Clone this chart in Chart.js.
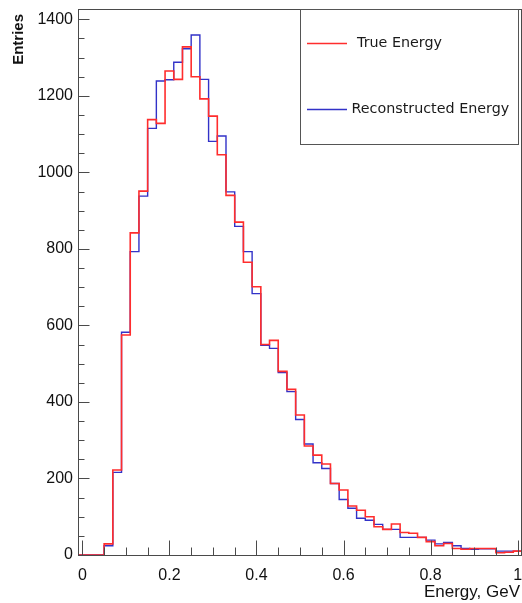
<!DOCTYPE html>
<html>
<head>
<meta charset="utf-8">
<script src="https://cdn.jsdelivr.net/npm/chart.js@4.4.1/dist/chart.umd.min.js"></script>
<style>
html,body{margin:0;padding:0;background:#fff;}
canvas{display:block;}
</style>
</head>
<body>
<canvas id="c" width="522" height="603"></canvas>
<script>
// ---- data ----
const binCenters = [0.00,0.02,0.04,0.06,0.08,0.10,0.12,0.14,0.16,0.18,
                    0.20,0.22,0.24,0.26,0.28,0.30,0.32,0.34,0.36,0.38,
                    0.40,0.42,0.44,0.46,0.48,0.50,0.52,0.54,0.56,0.58,
                    0.60,0.62,0.64,0.66,0.68,0.70,0.72,0.74,0.76,0.78,
                    0.80,0.82,0.84,0.86,0.88,0.90,0.92,0.94,0.96,0.98,1.00];
const binWidth = 0.02;
const trueEnergy = [0,0,0,29,222,575,842,951,1138,1128,
                    1265,1243,1328,1250,1192,1147,1046,940,870,765,
                    701,550,561,480,433,366,285,261,238,187,
                    170,128,117,100,74,67,81,59,57,46,
                    35,24,30,17,15,17,17,17,6,7,10];
const recoEnergy = [0,0,0,24,216,582,793,938,1115,1239,
                    1242,1288,1323,1359,1243,1081,1095,949,859,793,
                    683,548,540,477,427,354,290,241,226,187,
                    145,122,96,91,80,67,67,46,46,46,
                    39,29,33,24,17,15,16,16,10,10,10];
const xTicks = [0,0.2,0.4,0.6,0.8,1];
const yTicks = [0,200,400,600,800,1000,1200,1400];
const seriesLabels = ['True Energy','Reconstructed Energy'];
const xTitle = 'Energy, GeV';
const yTitle = 'Entries';

const RED = 'rgb(255,45,45)';
const BLUE = 'rgb(50,50,200)';
const AXIS = '#4a4a4a';

function stepPoints(vals){
  const pts = binCenters.map((c,i)=>({x:c-binWidth/2, y:vals[i]}));
  pts.push({x:binCenters[binCenters.length-1]+binWidth/2, y:vals[vals.length-1]});
  return pts;
}

function noPad(s){ s.paddingLeft=0; s.paddingRight=0; s.paddingTop=0; s.paddingBottom=0; }

const decor = {
  id:'decor',
  afterDatasetsDraw(chart){
    const {ctx, chartArea:a, scales:{x,y}} = chart;
    ctx.save();
    ctx.strokeStyle = AXIS;
    ctx.lineWidth = 1;
    const L = Math.round(a.left)+0.5, R = Math.round(a.right)-0.5;
    const T = Math.round(a.top)+0.5, B = Math.round(a.bottom)+0.5;
    ctx.strokeRect(L, T, R-L, B-T);
    ctx.beginPath();
    for(let v=0; v<=y.max; v+=50){
      const py = Math.round(y.getPixelForValue(v))+0.5;
      const len = (v%200===0)?11:6;
      ctx.moveTo(L, py); ctx.lineTo(L+len, py);
    }
    for(let i=0;i<=20;i++){
      const v = i*0.05;
      const px = Math.round(x.getPixelForValue(v))+0.5;
      const len = (i%4===0)?15:8;
      ctx.moveTo(px, B); ctx.lineTo(px, B-len);
    }
    ctx.stroke();
    ctx.restore();
  },
  afterDraw(chart){
    const {ctx} = chart;
    ctx.save();
    ctx.fillStyle = '#fff';
    ctx.fillRect(300.5, 9.5, 218, 135);
    ctx.strokeStyle = '#555';
    ctx.lineWidth = 1;
    ctx.strokeRect(300.5, 9.5, 218, 135);
    const ds = chart.data.datasets;
    const rows = [{y:43, tx:357},{y:109, tx:351.5}];
    ctx.font = '14.3px "DejaVu Sans"';
    ctx.textBaseline = 'middle';
    ctx.textAlign = 'left';
    rows.forEach((r,i)=>{
      ctx.strokeStyle = ds[i].borderColor;
      ctx.lineWidth = 1.3;
      ctx.beginPath(); ctx.moveTo(307, r.y+0.5); ctx.lineTo(347, r.y+0.5); ctx.stroke();
      ctx.fillStyle = '#1a1a1a';
      ctx.fillText(ds[i].label, r.tx, r.y);
    });
    ctx.fillStyle = '#111';
    ctx.font = 'bold 15px "Liberation Sans"';
    ctx.save();
    ctx.translate(18.5, 14);
    ctx.rotate(-Math.PI/2);
    ctx.textAlign = 'right';
    ctx.textBaseline = 'middle';
    ctx.fillText(yTitle, 0, 0);
    ctx.restore();
    ctx.font = '17px "Liberation Sans"';
    ctx.textAlign = 'right';
    ctx.textBaseline = 'alphabetic';
    ctx.fillText(xTitle, 520, 597);
    ctx.restore();
  }
};

new Chart(document.getElementById('c'), {
  type:'line',
  data:{
    datasets:[
      {label:seriesLabels[0], data:stepPoints(trueEnergy), borderColor:RED, borderWidth:1.6,
       stepped:'before', pointRadius:0, fill:false, borderJoinStyle:'miter'},
      {label:seriesLabels[1], data:stepPoints(recoEnergy), borderColor:BLUE, borderWidth:1.4,
       stepped:'before', pointRadius:0, fill:false, borderJoinStyle:'miter'}
    ]
  },
  options:{
    responsive:false,
    animation:false,
    devicePixelRatio:1,
    layout:{padding:{left:0,right:0,top:9,bottom:0}},
    plugins:{legend:{display:false}, tooltip:{enabled:false}},
    scales:{
      x:{type:'linear', min:-0.01, max:1.01,
         afterFit:s=>{s.height=48; noPad(s);},
         afterBuildTicks:s=>{s.ticks = xTicks.map(v=>({value:v}));},
         grid:{display:false, drawTicks:false}, border:{display:false},
         ticks:{autoSkip:false, maxRotation:0, padding:11, color:'#111',
                font:{family:'"Liberation Sans"', size:16},
                callback:v=>String(v)}},
      y:{type:'linear', min:0, max:1427,
         afterFit:s=>{s.width=78; noPad(s);},
         afterBuildTicks:s=>{s.ticks = yTicks.map(v=>({value:v}));},
         grid:{display:false, drawTicks:false}, border:{display:false},
         ticks:{autoSkip:false, padding:5, color:'#111',
                font:{family:'"Liberation Sans"', size:16},
                callback:v=>String(v)}}
    }
  },
  plugins:[decor]
});
</script>
</body>
</html>
